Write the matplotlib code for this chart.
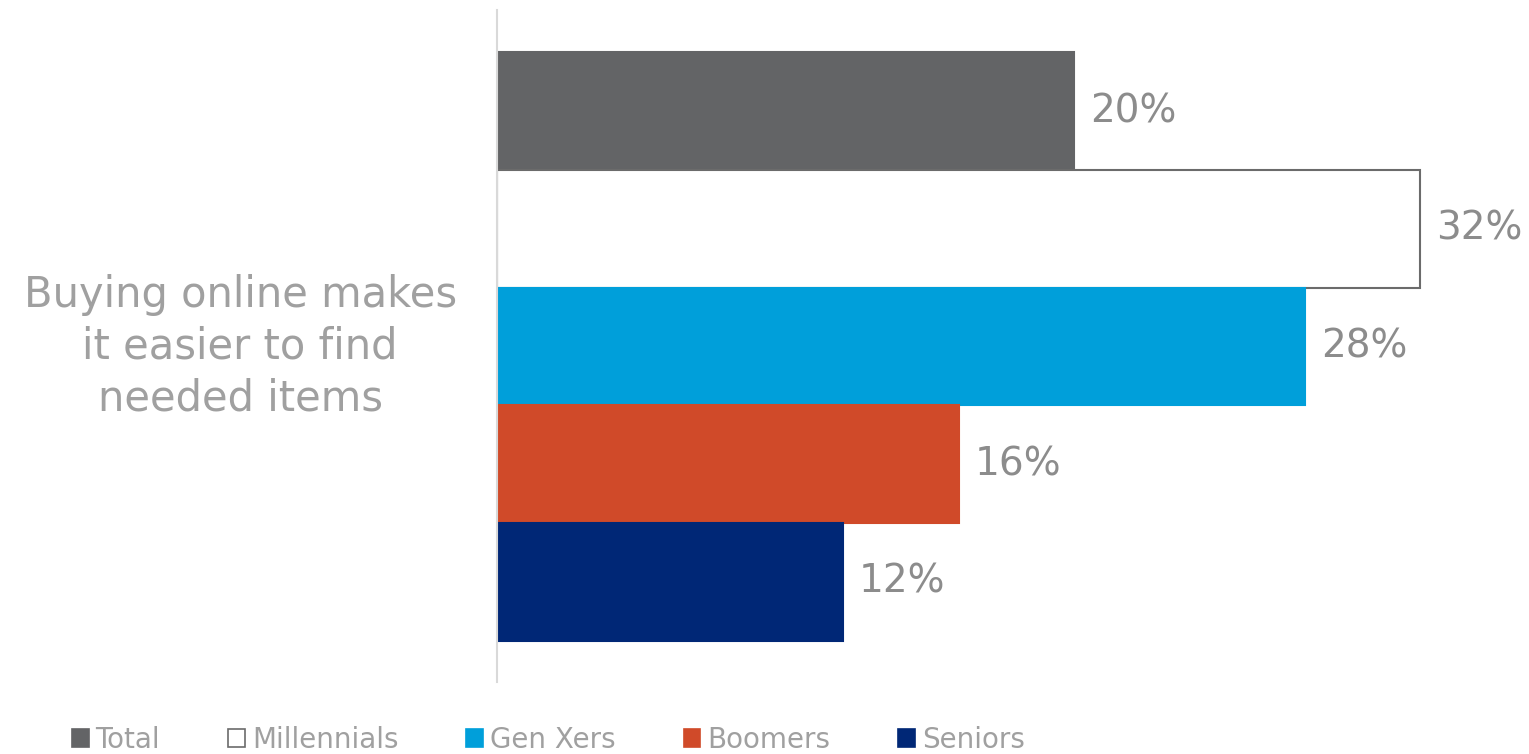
import matplotlib.pyplot as plt
from matplotlib.patches import Patch

category = "Buying online makes\nit easier to find\nneeded items"
groups = ["Total", "Millennials", "Gen Xers", "Boomers", "Seniors"]
values = [20, 32, 28, 16, 12]
fills = ["#636466", "#ffffff", "#009fda", "#d04a29", "#002776"]
edges = ["#636466", "#6b6b6b", "#009fda", "#d04a29", "#002776"]


def main():
    plt.rcParams['font.family'] = ['DejaVu Sans']
    fig = plt.figure(figsize=(15.29, 7.54), dpi=100)
    ax = fig.add_axes([497 / 1529, 72 / 754, 1010 / 1529, 672 / 754])

    pos = list(range(len(groups)))
    bars = ax.barh(pos, values, height=1.0, color=fills, edgecolor=edges, linewidth=1.5)

    for b, v in zip(bars, values):
        ax.text(b.get_width() + 0.55, b.get_y() + b.get_height() / 2, f"{v}%",
                va='center', ha='left', fontsize=28, color='#8c8c8c')

    ax.set_xlim(0, 35)
    ax.set_ylim(4.5 + 0.35, -0.5 - 0.36)

    # single category label, centred on the whole group of bars
    ax.set_yticks([2], [category])
    ax.tick_params(axis='y', length=0, pad=29, labelsize=30, labelcolor='#a0a0a0')
    for lbl in ax.get_yticklabels():
        lbl.set_multialignment('center')
        lbl.set_linespacing(1.3)
        lbl.set_verticalalignment('center')
    ax.set_xticks([])

    for side in ['top', 'right', 'bottom']:
        ax.spines[side].set_visible(False)
    ax.spines['left'].set_color('#d9d9d9')
    ax.spines['left'].set_linewidth(1.5)

    handles = [Patch(facecolor=f, edgecolor=e, linewidth=1.2, label=g)
               for f, e, g in zip(fills, edges, groups)]
    fig.legend(handles=handles, loc='center left', bbox_to_anchor=(72 / 1529, 1 - 740 / 754),
               ncol=5, frameon=False, fontsize=20, labelcolor='#a0a0a0',
               handlelength=0.6, handleheight=0.6, handletextpad=0.25,
               columnspacing=2.45, borderpad=0, borderaxespad=0)

    plt.savefig("out.png", dpi=100)


main()
